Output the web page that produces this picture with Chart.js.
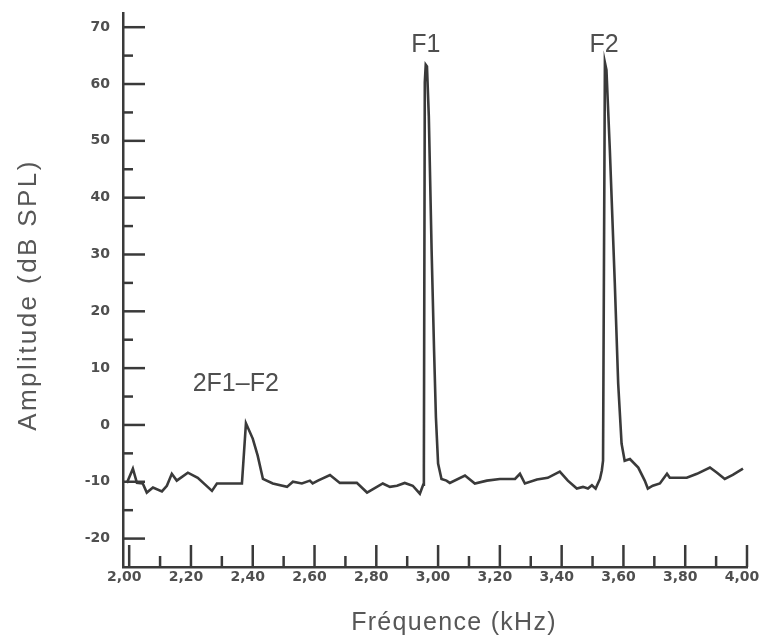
<!DOCTYPE html>
<html>
<head>
<meta charset="utf-8">
<script src="https://cdn.jsdelivr.net/npm/chart.js@4.4.0/dist/chart.umd.min.js"></script>
<style>
html,body{margin:0;padding:0;background:#ffffff;}
#wrap{width:760px;height:641px;}
</style>
</head>
<body>
<div id="wrap"><canvas id="c" width="760" height="641"></canvas></div>
<script>
// ---- data ----
const freqKHz = [
  1.9925, 2.012, 2.025, 2.044, 2.057, 2.077, 2.106, 2.122, 2.138, 2.154,
  2.190, 2.222, 2.268, 2.284, 2.365, 2.378, 2.400, 2.416, 2.433, 2.465,
  2.511, 2.530, 2.559, 2.585, 2.594, 2.611, 2.650, 2.682, 2.737, 2.770,
  2.821, 2.844, 2.867, 2.892, 2.918, 2.941, 2.952, 2.954, 2.957, 2.960,
  2.964, 2.970, 2.979, 2.987, 2.993, 3.000, 3.011, 3.027, 3.038, 3.087,
  3.119, 3.158, 3.200, 3.249, 3.265, 3.281, 3.320, 3.355, 3.394, 3.420,
  3.449, 3.469, 3.485, 3.498, 3.510, 3.524, 3.530, 3.534, 3.540, 3.545,
  3.556, 3.572, 3.583, 3.594, 3.604, 3.621, 3.648, 3.669, 3.679, 3.695,
  3.718, 3.741, 3.750, 3.805, 3.838, 3.880, 3.903, 3.928, 3.954, 3.987
];
const amplitudeDb = [
  -10.2, -7.7, -10.2, -10.3, -11.9, -11.0, -11.7, -10.7, -8.6, -9.8,
  -8.4, -9.3, -11.6, -10.3, -10.3, 0.3, -2.4, -5.4, -9.5, -10.3,
  -10.9, -10.0, -10.3, -9.8, -10.3, -9.8, -8.8, -10.2, -10.2, -11.9,
  -10.3, -10.9, -10.7, -10.2, -10.7, -12.1, -10.5, -7.5, 60.3, 63.4,
  63.1, 54.3, 30.8, 13.1, 1.3, -6.8, -9.5, -9.8, -10.2, -8.9,
  -10.3, -9.8, -9.5, -9.5, -8.6, -10.3, -9.6, -9.3, -8.2, -9.8,
  -11.2, -10.9, -11.2, -10.6, -11.2, -9.5, -8.0, -6.3, 63.8, 62.5,
  48.4, 25.0, 7.3, -3.3, -6.3, -6.0, -7.5, -9.8, -11.2, -10.7,
  -10.3, -8.6, -9.3, -9.3, -8.6, -7.5, -8.4, -9.5, -8.8, -7.7
];
const xMajorTicks = [2.0, 2.2, 2.4, 2.6, 2.8, 3.0, 3.2, 3.4, 3.6, 3.8, 4.0];
const xMinorTicks = [2.1, 2.3, 2.5, 2.7, 2.9, 3.1, 3.3, 3.5, 3.7, 3.9];
const yMajorTicks = [-20, -10, 0, 10, 20, 30, 40, 50, 60, 70];
const yMinorTicks = [-15, -5, 5, 15, 25, 35, 45, 55, 65];
const peakLabels = ['2F1\u2013F2', 'F1', 'F2'];
const peakLabelFreq = [2.345, 2.960, 3.537];
const peakLabelAmp = [7.1, 66.8, 66.8];
const xTitle = 'Fréquence (kHz)';
const yTitle = 'Amplitude (dB SPL)';

// ---- styling ----
const INK = '#3a3a3a';
const TEXT = '#4f4f4f';
const TITLE = '#575757';
const X_MIN = 1.98, X_MAX = 4.0, Y_MIN = -25, Y_MAX = 72.5;

const points = freqKHz.map((f, i) => ({x: f, y: amplitudeDb[i]}));

const inwardTicks = {
  id: 'inwardTicks',
  beforeDatasetsDraw(chart) {
    const {ctx, scales: {x, y}, chartArea} = chart;
    ctx.save();
    ctx.strokeStyle = INK;
    ctx.lineWidth = 2.5;
    ctx.lineCap = 'butt';
    const drawX = (vals, len) => vals.forEach(v => {
      if (v <= X_MIN + 0.01) return;
      const px = x.getPixelForValue(v);
      ctx.beginPath();
      ctx.moveTo(px, chartArea.bottom);
      ctx.lineTo(px, chartArea.bottom - len);
      ctx.stroke();
    });
    const drawY = (vals, len) => vals.forEach(v => {
      const py = y.getPixelForValue(v);
      ctx.beginPath();
      ctx.moveTo(chartArea.left, py);
      ctx.lineTo(chartArea.left + len, py);
      ctx.stroke();
    });
    drawX(xMajorTicks, 22);
    drawX(xMinorTicks, 11);
    drawY(yMajorTicks, 22);
    drawY(yMinorTicks, 10);
    ctx.restore();
  }
};

const textLayer = {
  id: 'textLayer',
  afterDatasetsDraw(chart) {
    const {ctx, scales: {x, y}, chartArea} = chart;
    ctx.save();
    ctx.font = '25px "Liberation Sans", Arial, sans-serif';
    ctx.fillStyle = TEXT;
    ctx.textAlign = 'center';
    ctx.textBaseline = 'middle';
    peakLabels.forEach((t, i) => {
      ctx.fillText(t, x.getPixelForValue(peakLabelFreq[i]), y.getPixelForValue(peakLabelAmp[i]));
    });
    ctx.restore();

    // axis titles
    ctx.save();
    ctx.fillStyle = TITLE;
    ctx.font = '25px "Liberation Sans", Arial, sans-serif';
    ctx.textAlign = 'center';
    ctx.textBaseline = 'alphabetic';
    if ('letterSpacing' in ctx) ctx.letterSpacing = '1.3px';
    ctx.fillText(xTitle, (chartArea.left + chartArea.right) / 2 + 19, chartArea.bottom + 63);
    ctx.restore();

    ctx.save();
    ctx.fillStyle = TITLE;
    ctx.font = '26px "Liberation Sans", Arial, sans-serif';
    ctx.textAlign = 'center';
    ctx.textBaseline = 'alphabetic';
    if ('letterSpacing' in ctx) ctx.letterSpacing = '2.4px';
    ctx.translate(36, (chartArea.top + chartArea.bottom) / 2 + 5);
    ctx.rotate(-Math.PI / 2);
    ctx.fillText(yTitle, 0, 0);
    ctx.restore();
  }
};

const tickFont = {family: '"DejaVu Sans", sans-serif', weight: 'bold', size: 14};

new Chart(document.getElementById('c'), {
  type: 'scatter',
  data: {
    datasets: [{
      data: points,
      showLine: true,
      borderColor: INK,
      borderWidth: 2.6,
      pointRadius: 0,
      tension: 0,
      fill: false
    }]
  },
  options: {
    responsive: false,
    animation: false,
    devicePixelRatio: 1,
    layout: {padding: {top: 13, right: 13, bottom: 0, left: 0}},
    plugins: {legend: {display: false}, tooltip: {enabled: false}},
    scales: {
      x: {
        type: 'linear',
        position: 'bottom',
        min: X_MIN,
        max: X_MAX,
        afterBuildTicks: s => { s.ticks = xMajorTicks.map(v => ({value: v})); },
        afterFit: s => { s.height = 74; s.paddingLeft = 0; s.paddingRight = 0; },
        grid: {display: false, drawTicks: false},
        border: {display: true, color: INK, width: 2.5},
        ticks: {
          padding: 2,
          labelOffset: -5,
          autoSkip: false,
          maxRotation: 0,
          font: tickFont,
          color: TEXT,
          callback: v => Number(v).toFixed(2).replace('.', ',')
        },
        title: {display: false}
      },
      y: {
        type: 'linear',
        min: Y_MIN,
        max: Y_MAX,
        afterBuildTicks: s => { s.ticks = yMajorTicks.map(v => ({value: v})); },
        afterFit: s => { s.width = 123; s.paddingTop = 0; s.paddingBottom = 0; },
        grid: {display: false, drawTicks: false},
        border: {display: true, color: INK, width: 2.5},
        ticks: {
          padding: 13,
          autoSkip: false,
          font: tickFont,
          color: TEXT,
          callback: v => String(v)
        },
        title: {display: false}
      }
    }
  },
  plugins: [inwardTicks, textLayer]
});
</script>
</body>
</html>
